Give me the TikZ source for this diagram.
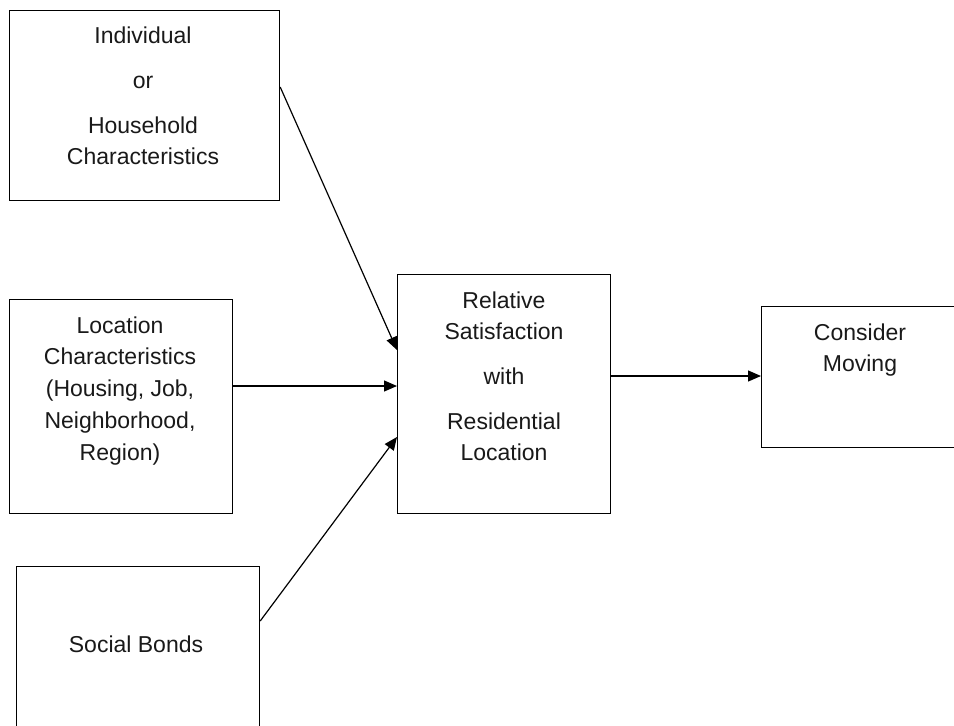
\documentclass[tikz,border=0pt]{standalone}
\usepackage{fontspec}
\setmainfont{Liberation Sans}
\usetikzlibrary{arrows.meta}
\begin{document}
\begin{tikzpicture}[x=1pt,y=-1pt,
  box/.style={draw, line width=1.2pt, rectangle, inner sep=0pt, anchor=north west},
  lbl/.style={align=center, font=\fontsize{23}{31}\selectfont, inner sep=0pt, anchor=base, text=black!90},
  conn/.style={line width=1.2pt, -{Triangle[length=13pt,width=11pt]}}]
\useasboundingbox (0,0) rectangle (954,726);
\clip (0,0) rectangle (954,726);
% boxes
\node[box, minimum width=270.5pt, minimum height=190pt] (b1) at (8.5,10) {};
\node[box, minimum width=223.5pt, minimum height=214pt] (b2) at (8.5,299) {};
\node[box, minimum width=243pt, minimum height=200pt] (b3) at (16,566) {};
\node[box, minimum width=213pt, minimum height=239pt] (b4) at (397,274) {};
\node[box, minimum width=200pt, minimum height=141pt] (b5) at (761,306) {};
% texts (anchored at the baseline of their last line)
\node[lbl] (t1) at (143,164) {Individual\\[14pt]or\\[14pt]Household\\Characteristics};
\node[lbl] (t2) at (120,460) {Location\\[0.75pt]Characteristics\\[0.75pt](Housing, Job,\\[0.75pt]Neighborhood,\\[0.75pt]Region)};
\node[lbl] (t3) at (136,652) {Social Bonds};
\node[lbl] (t4) at (504,460) {Relative\\Satisfaction\\[14pt]with\\[14pt]Residential\\Location};
\node[lbl] (t5) at (860,371) {Consider\\Moving};
% connectors
\draw[conn] ([yshift=-77pt]b1.north east) -- ([yshift=-76pt]b4.north west);
\draw[conn] ([yshift=-87pt]b2.north east) -- ([yshift=-112pt]b4.north west);
\draw[conn] ([yshift=-55pt]b3.north east) -- ([yshift=-163pt]b4.north west);
\draw[conn] ([yshift=-102pt]b4.north east) -- ([yshift=-70pt]b5.north west);
\end{tikzpicture}
\end{document}
